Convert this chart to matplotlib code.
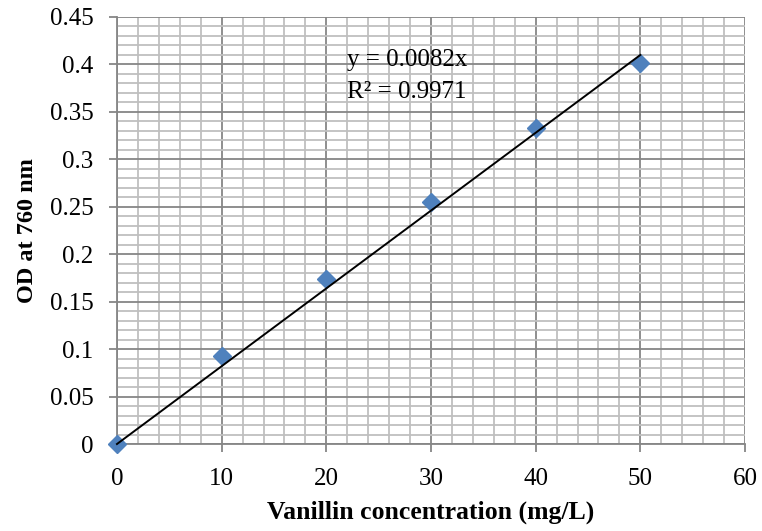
import numpy as np
import matplotlib
matplotlib.use("Agg")
import matplotlib.pyplot as plt
from matplotlib.ticker import MultipleLocator

# vanillin standard curve
conc = [0, 10, 20, 30, 40, 50]
od = [0.0, 0.093, 0.174, 0.255, 0.333, 0.402]
slope = 0.0082
r2 = 0.9971

plt.rcParams['font.family'] = ['Liberation Serif', 'DejaVu Serif']

fig = plt.figure(figsize=(7.62, 5.31), dpi=100)
ax = fig.add_axes([0.1535, 0.1638, 0.8242, 0.8042])

ax.plot(conc, od, linestyle='none', marker='D', markersize=9.5,
        color='#4F81BD', zorder=3, clip_on=False)

# linear trendline through origin
xs = np.array([conc[0], conc[-1]])
ax.plot(xs, slope * xs, color='black', linewidth=1.4, zorder=4, clip_on=False)

ax.text(22, 0.4046, 'y = %.4fx' % slope, fontsize=18, va='center', ha='left')
ax.text(22, 0.371, 'R² = %.4f' % r2, fontsize=18, va='center', ha='left')

ax.set_xlim(0, 60)
ax.set_ylim(0, 0.45)
ax.xaxis.set_major_locator(MultipleLocator(10))
ax.xaxis.set_minor_locator(MultipleLocator(2))
ax.yaxis.set_major_locator(MultipleLocator(0.05))
ax.yaxis.set_minor_locator(MultipleLocator(0.01))
ax.set_yticks(np.arange(0, 0.451, 0.05))
ax.set_yticklabels(['0', '0.05', '0.1', '0.15', '0.2', '0.25', '0.3', '0.35', '0.4', '0.45'])

ax.grid(which='major', color='#868686', linewidth=1.3, zorder=1)
ax.grid(which='minor', color='#bfbfbf', linewidth=1.3, zorder=0)
ax.set_axisbelow(True)

for s in ['top', 'right']:
    ax.spines[s].set_visible(False)
for s in ['left', 'bottom']:
    ax.spines[s].set_color('#868686')
    ax.spines[s].set_linewidth(1.3)

ax.tick_params(which='major', direction='out', length=6, width=1.3,
               color='#868686', labelsize=18, pad=11)
ax.tick_params(which='minor', length=0)

ax.set_xlabel('Vanillin concentration (mg/L)', fontsize=18.5, fontweight='bold', labelpad=8)
ax.set_ylabel('OD at 760 nm', fontsize=17.5, fontweight='bold', labelpad=8)

fig.savefig('out.png', dpi=100)
